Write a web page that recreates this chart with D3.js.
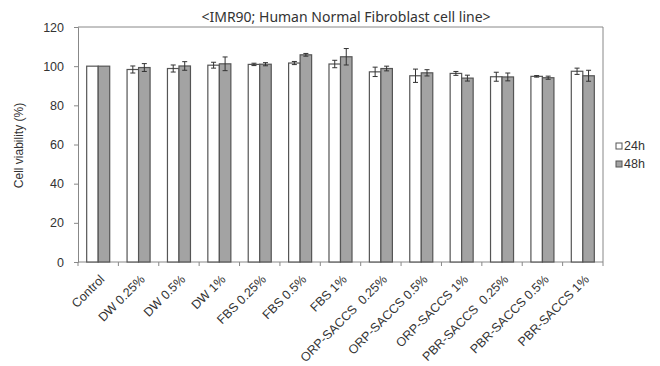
<!DOCTYPE html>
<html>
<head>
<meta charset="utf-8">
<script src="https://cdn.jsdelivr.net/npm/d3@7"></script>
<style>
  body { margin: 0; background: #fff; }
  text { font-family: "Liberation Sans", Arial, sans-serif; fill: #333; }
</style>
</head>
<body>
<svg id="chart" width="660" height="366"></svg>
<script>
// data
var categories = ['Control', 'DW 0.25%', 'DW 0.5%', 'DW 1%', 'FBS 0.25%', 'FBS 0.5%', 'FBS 1%',
  'ORP-SACCS  0.25%', 'ORP-SACCS 0.5%', 'ORP-SACCS 1%', 'PBR-SACCS  0.25%', 'PBR-SACCS 0.5%', 'PBR-SACCS 1%'];
var seriesNames = ['24h', '48h'];
var values24 = [100, 98.3, 98.8, 100.5, 100.9, 101.6, 101.1, 97.1, 95.1, 96.3, 94.6, 94.8, 97.4];
var values48 = [100, 99.3, 100.1, 101.2, 101.0, 105.8, 104.8, 98.8, 96.6, 93.9, 94.5, 94.1, 95.1];
var errors24 = [0, 1.8, 1.8, 1.5, 0.6, 0.8, 1.9, 2.4, 3.4, 1.0, 2.3, 0.4, 1.6];
var errors48 = [0, 2.0, 2.2, 3.5, 0.8, 0.7, 4.2, 1.2, 1.6, 1.5, 2.0, 0.8, 2.8];
var yTicks = [0, 20, 40, 60, 80, 100, 120];

var svg = d3.select('#chart');
var pLeft = 78, pRight = 603, pTop = 27, pBottom = 262;

var x = d3.scaleBand().domain(categories).range([pLeft, pRight])
  .paddingInner(0.43).paddingOuter(0.215);
var xs = d3.scaleBand().domain(seriesNames).range([0, x.bandwidth()]);
var y = d3.scaleLinear().domain([0, 120]).range([pBottom, pTop]);

// plot area border (top and right)
svg.append('path')
  .attr('d', 'M' + pLeft + ',' + pTop + 'H' + pRight + 'V' + pBottom)
  .attr('fill', 'none').attr('stroke', '#888').attr('stroke-width', 1);

// y axis
var yAxis = svg.append('g').attr('transform', 'translate(' + pLeft + ',0)')
  .call(d3.axisLeft(y).tickValues(yTicks).tickSize(4).tickPadding(10));
yAxis.select('.domain').attr('stroke', '#888');
yAxis.selectAll('.tick line').attr('stroke', '#888');
yAxis.selectAll('.tick text').style('font-size', '12.5px').attr('fill', '#333')
  .style('font-family', '"Liberation Sans", Arial, sans-serif');

// x axis: ticks at band boundaries
var step = x.step();
var xAxisG = svg.append('g');
xAxisG.append('line').attr('x1', pLeft).attr('x2', pRight).attr('y1', pBottom).attr('y2', pBottom)
  .attr('stroke', '#888');
xAxisG.selectAll('line.tk').data(d3.range(categories.length + 1)).enter().append('line')
  .attr('class', 'tk')
  .attr('x1', function(d) { return pLeft + d * step; })
  .attr('x2', function(d) { return pLeft + d * step; })
  .attr('y1', pBottom).attr('y2', pBottom + 4)
  .attr('stroke', '#888');

xAxisG.selectAll('text.lbl').data(categories).enter().append('text')
  .attr('class', 'lbl')
  .attr('transform', function(d) {
    return 'translate(' + (x(d) + x.bandwidth() / 2 + 4) + ',' + (pBottom + 15) + ') rotate(-45)';
  })
  .attr('text-anchor', 'end')
  .attr('dy', '0.35em')
  .style('font-size', '12.5px')
  .style('white-space', 'pre')
  .text(function(d) { return d; });

// bars
var rows = categories.map(function(c, i) {
  return [
    { cat: c, s: '24h', v: values24[i], e: errors24[i] },
    { cat: c, s: '48h', v: values48[i], e: errors48[i] }
  ];
});
var flat = [].concat.apply([], rows);
var fills = { '24h': '#ffffff', '48h': '#a3a3a3' };

svg.append('g').selectAll('rect').data(flat).enter().append('rect')
  .attr('x', function(d) { return x(d.cat) + xs(d.s); })
  .attr('y', function(d) { return y(d.v); })
  .attr('width', xs.bandwidth())
  .attr('height', function(d) { return y(0) - y(d.v); })
  .attr('fill', function(d) { return fills[d.s]; })
  .attr('stroke', '#555').attr('stroke-width', 1.2);

// error bars
var eg = svg.append('g').selectAll('g').data(flat.filter(function(d) { return d.e > 0; }))
  .enter().append('g')
  .attr('stroke', '#333').attr('stroke-width', 1);
eg.append('line')
  .attr('x1', function(d) { return x(d.cat) + xs(d.s) + xs.bandwidth() / 2; })
  .attr('x2', function(d) { return x(d.cat) + xs(d.s) + xs.bandwidth() / 2; })
  .attr('y1', function(d) { return y(d.v - d.e); })
  .attr('y2', function(d) { return y(d.v + d.e); });
eg.selectAll('line.cap').data(function(d) { return [d.v - d.e, d.v + d.e].map(function(v) { return { d: d, v: v }; }); })
  .enter().append('line').attr('class', 'cap')
  .attr('x1', function(o) { return x(o.d.cat) + xs(o.d.s) + xs.bandwidth() / 2 - 2.5; })
  .attr('x2', function(o) { return x(o.d.cat) + xs(o.d.s) + xs.bandwidth() / 2 + 2.5; })
  .attr('y1', function(o) { return y(o.v); })
  .attr('y2', function(o) { return y(o.v); });

// title
svg.append('text').attr('x', 346).attr('y', 22).attr('text-anchor', 'middle')
  .style('font-family', '"Noto Sans", sans-serif').style('font-size', '14px')
  .text('<IMR90; Human Normal Fibroblast cell line>');

// y axis title
svg.append('text')
  .attr('transform', 'translate(23,' + ((pTop + pBottom) / 2 + 1) + ') rotate(-90)')
  .attr('text-anchor', 'middle')
  .style('font-size', '12px')
  .text('Cell viability (%)');

// legend
var lg = svg.append('g').selectAll('g').data(seriesNames).enter().append('g')
  .attr('transform', function(d, i) { return 'translate(616,' + (146 + i * 18) + ')'; });
lg.append('rect').attr('x', 0).attr('y', -3).attr('width', 6).attr('height', 6)
  .attr('fill', function(d) { return fills[d]; }).attr('stroke', '#555');
lg.append('text').attr('x', 8).attr('dy', '0.35em').style('font-size', '12.5px')
  .text(function(d) { return d; });
</script>
</body>
</html>
